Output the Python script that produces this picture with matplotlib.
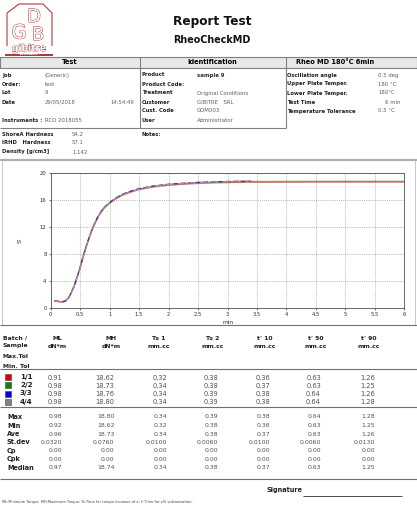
import matplotlib
matplotlib.use("Agg")
import matplotlib.pyplot as plt
import matplotlib.patheffects as pe
from matplotlib.patches import Rectangle, Polygon

# ---------------- data ----------------
t_long = [0.07, 0.10, 0.15, 0.20, 0.25, 0.30, 0.35, 0.40, 0.45, 0.50, 0.55, 0.60, 0.65, 0.70,
          0.75, 0.80, 0.85, 0.90, 1.00, 1.10, 1.20, 1.30, 1.40, 1.50, 1.75, 2.00, 2.25, 2.50,
          2.75, 3.00, 3.40, 3.50, 4.00, 4.50, 5.00, 5.50, 6.00]
t_short = t_long[:31]

s1 = [1.08, 1.02, 0.95, 0.91, 1.05, 1.50, 2.30, 3.30, 4.60, 6.00, 7.60, 9.00, 10.30, 11.50,
      12.50, 13.40, 14.10, 14.70, 15.50, 16.10, 16.60, 16.95, 17.25, 17.50, 17.90, 18.15, 18.30,
      18.42, 18.50, 18.55, 18.60, 18.60, 18.61, 18.62, 18.62, 18.62, 18.62]
s2 = [1.12, 1.06, 1.00, 0.98, 1.10, 1.55, 2.35, 3.35, 4.70, 6.10, 7.70, 9.10, 10.40, 11.60,
      12.60, 13.50, 14.20, 14.80, 15.60, 16.20, 16.70, 17.05, 17.35, 17.60, 18.00, 18.25, 18.40,
      18.52, 18.60, 18.65, 18.70, 18.70, 18.71, 18.72, 18.73, 18.73, 18.73]
s3 = [1.10, 1.05, 1.00, 0.98, 1.08, 1.50, 2.30, 3.30, 4.60, 6.00, 7.60, 9.10, 10.40, 11.60,
      12.60, 13.50, 14.20, 14.80, 15.60, 16.25, 16.75, 17.10, 17.40, 17.65, 18.05, 18.30, 18.45,
      18.58, 18.65, 18.70, 18.76]
s4 = [1.10, 1.04, 0.99, 0.98, 1.07, 1.45, 2.25, 3.25, 4.55, 5.95, 7.55, 9.00, 10.30, 11.50,
      12.50, 13.40, 14.10, 14.70, 15.50, 16.15, 16.65, 17.00, 17.30, 17.55, 18.00, 18.25, 18.42,
      18.55, 18.65, 18.72, 18.80]

x_ticks = [0, 0.5, 1, 1.5, 2, 2.5, 3, 3.5, 4, 4.5, 5, 5.5, 6]
x_tick_labels = ["0", "0.5", "1", "1.5", "2", "2.5", "3", "3.5", "4", "4.5", "5", "5.5", "6"]
y_ticks = [0, 4, 8, 12, 16, 20]

test_labels = ["Job", "Order:", "Lot", "Date"]
test_values = ["(Generic)", "test", "9", "29/05/2018"]
ident_labels = ["Product", "Product Code:", "Treatment", "Customer", "Cust. Code", "User"]
ident_values = ["sample 9", "", "Original Conditions", "GIBITRE   SRL", "GOM003", "Administrator"]
rheo_labels = ["Oscillation angle", "Upper Plate Temper.", "Lower Plate Temper.", "Test Time",
               "Temperature Tolerance"]
rheo_values = ["0.5 deg", "180 °C", "180°C", "6 min", "0.5 °C"]
hard_labels = ["ShoreA Hardness", "IRHD   Hardness", "Density [g/cm3]"]
hard_values = ["54.2", "57.1", "1.142"]

col_names = ["ML", "MH", "Ts 1", "Ts 2", "t' 10", "t' 50", "t' 90"]
col_units = ["dN*m", "dN*m", "mm.cc", "mm.cc", "mm.cc", "mm.cc", "mm.cc"]
samples = ["1/1", "2/2", "3/3", "4/4"]
sample_colors = ["#e00000", "#108010", "#0000e0", "#808080"]
sample_vals = [
    ["0.91", "18.62", "0.32", "0.38", "0.36", "0.63", "1.26"],
    ["0.98", "18.73", "0.34", "0.38", "0.37", "0.63", "1.25"],
    ["0.98", "18.76", "0.34", "0.39", "0.38", "0.64", "1.26"],
    ["0.98", "18.80", "0.34", "0.39", "0.38", "0.64", "1.28"],
]
stat_names = ["Max", "Min", "Ave", "St.dev", "Cp", "Cpk", "Median"]
stat_vals = [
    ["0.98", "18.80", "0.34", "0.39", "0.38", "0.64", "1.28"],
    ["0.92", "18.62", "0.32", "0.38", "0.36", "0.63", "1.25"],
    ["0.96", "18.73", "0.34", "0.38", "0.37", "0.63", "1.26"],
    ["0.0320", "0.0760", "0.0100", "0.0060", "0.0100", "0.0060", "0.0130"],
    ["0.00", "0.00", "0.00", "0.00", "0.00", "0.00", "0.00"],
    ["0.00", "0.00", "0.00", "0.00", "0.00", "0.00", "0.00"],
    ["0.97", "18.74", "0.34", "0.38", "0.37", "0.63", "1.25"],
]

# ---------------- figure ----------------
plt.rcParams['font.family'] = ['DejaVu Sans']
W, H = 417, 507
fig = plt.figure(figsize=(W / 100, H / 100), dpi=100)
pg = fig.add_axes([0, 0, 1, 1])
pg.set_xlim(0, W)
pg.set_ylim(H, 0)
pg.axis('off')

LBL = dict(fontsize=3.8, fontweight='bold', color='#202020', va='center')
VAL = dict(fontsize=3.9, color='#606060', va='center')


def hline(y, x0, x1, c='#808080', lw=0.8):
    pg.plot([x0, x1], [y, y], color=c, lw=lw, solid_capstyle='butt')


def vline(x, y0, y1, c='#808080', lw=0.8):
    pg.plot([x, x], [y0, y1], color=c, lw=lw, solid_capstyle='butt')


# logo
red = '#b03a3a'
hollow = [pe.withStroke(linewidth=0.7, foreground=red)]
pg.add_patch(Polygon([(7, 46), (7, 13), (19, 4), (43, 4), (52, 13), (52, 46)], closed=False,
                     fill=False, edgecolor=red, lw=0.8))
pg.text(34, 17, "D", fontsize=13, color='white', ha='center', va='center', path_effects=hollow)
pg.text(19, 33, "G", fontsize=14, color='white', ha='center', va='center', path_effects=hollow)
pg.text(38, 35, "B", fontsize=13, color='white', ha='center', va='center', path_effects=hollow)
pg.text(29, 48.5, "gibitre", fontsize=6.5, color='white', ha='center', va='center', fontweight='bold',
        path_effects=[pe.withStroke(linewidth=0.6, foreground=red)])
pg.add_patch(Rectangle((5, 53.8), 48, 2.2, facecolor=red, edgecolor='none'))
pg.text(29, 54.9, "INSTRUMENTS", fontsize=1.6, color='white', ha='center', va='center', fontweight='bold')

# titles
pg.text(212, 22, "Report Test", fontsize=8.7, fontweight='bold', ha='center', va='center', color='#111111')
pg.text(212, 40, "RheoCheckMD", fontsize=6.9, fontweight='bold', ha='center', va='center', color='#111111')

# header band
pg.add_patch(Rectangle((0, 57), W, 11, facecolor='#e8e8e8', edgecolor='#808080', lw=0.8))
pg.text(70, 62.5, "Test", fontsize=4.8, fontweight='bold', ha='center', va='center')
pg.text(212, 62.5, "Identification", fontsize=4.8, fontweight='bold', ha='center', va='center')
pg.text(296, 62.5, "Rheo MD 180°C 6min", fontsize=4.8, fontweight='bold', ha='left', va='center')
vline(140, 57, 128)
vline(286, 57, 128)
hline(128, 0, 286)

rows_y = [75, 84, 93, 102, 111, 120]
for i, (l, v) in enumerate(zip(test_labels, test_values)):
    pg.text(2, rows_y[i], l, ha='left', **LBL)
    pg.text(45, rows_y[i], v, ha='left', **VAL)
pg.text(110, rows_y[3], "14:54:49", ha='left', **VAL)
pg.text(2, 120, "Instruments :", ha='left', **LBL)
pg.text(45, 120, "RCO 2018055", ha='left', **VAL)

for i, (l, v) in enumerate(zip(ident_labels, ident_values)):
    pg.text(142, rows_y[i], l, ha='left', **LBL)
    if i == 0:
        pg.text(197, rows_y[i], v, ha='left', fontsize=3.9, fontweight='bold', color='#303030', va='center')
    else:
        pg.text(197, rows_y[i], v, ha='left', **VAL)

rheo_x = [378, 378, 378, 385, 378]
for i, (l, v) in enumerate(zip(rheo_labels, rheo_values)):
    pg.text(287, rows_y[i], l, ha='left', **LBL)
    pg.text(rheo_x[i], rows_y[i], v, ha='left', **VAL)

for i, (l, v) in enumerate(zip(hard_labels, hard_values)):
    y = 134 + 9 * i
    pg.text(2, y, l, ha='left', **LBL)
    pg.text(72, y, v, ha='left', **VAL)
pg.text(142, 134, "Notes:", ha='left', **LBL)

hline(160, 0, W, c='#b0b0b0', lw=1.6)
vline(2, 160, 325, c='#c0c0c0', lw=0.6)
vline(415, 160, 325, c='#c0c0c0', lw=0.6)

# ---------------- chart ----------------
left_px, right_px, top_px, bot_px = 50.7, 404.3, 172.7, 308.3
ax = fig.add_axes([left_px / W, (H - bot_px) / H, (right_px - left_px) / W, (bot_px - top_px) / H])
ax.plot(t_long, s1, color='#d04848', lw=1.0, alpha=0.75, zorder=3)
ax.plot(t_long, s2, color='#3a8a2a', lw=1.0, alpha=0.6, zorder=3)
ax.plot(t_short, s3, color='#3030c8', lw=0.9, ls=(0, (4, 2)), zorder=4)
ax.plot(t_short, s4, color='#c08890', lw=0.9, ls=(0, (6, 3)), zorder=4)
ax.set_xlim(0, 6)
ax.set_ylim(0, 20)
ax.set_xticks(x_ticks)
ax.set_xticklabels(x_tick_labels)
ax.set_yticks(y_ticks)
ax.tick_params(labelsize=3.8, length=1.5, width=0.5, pad=1.5, colors='#303030')
ax.grid(True, color='#a0a0a0', ls=(0, (1.5, 1.5)), lw=0.5)
for sp in ax.spines.values():
    sp.set_color('#505050')
    sp.set_linewidth(0.6)
ax.set_xlabel("min", fontsize=4.2, labelpad=1.5, color='#303030')
ax.set_ylabel("S'", fontsize=4.5, labelpad=12, color='#303030')

# ---------------- results table ----------------
hline(325, 0, W, c='#707070', lw=0.8)
HB = dict(fontsize=4.4, fontweight='bold', va='center', color='#202020')
pg.text(3, 338, "Batch /", ha='left', **HB)
pg.text(3, 345, "Sample", ha='left', **HB)
pg.text(3, 357, "Max.Tol", ha='left', **HB)
pg.text(3, 366, "Min. Tol", ha='left', **HB)
head_x = [57, 111, 159, 213, 265, 316, 369]
for x, n, u in zip(head_x, col_names, col_units):
    pg.text(x, 338, n, ha='center', **HB)
    pg.text(x, 346, u, ha='center', **HB)
hline(369, 0, W, c='#707070', lw=0.8)

val_right = [62, 114.5, 167, 218, 270, 321, 375]
samp_y = [377, 385.3, 393.5, 401.7]
for y, s, c, vals in zip(samp_y, samples, sample_colors, sample_vals):
    pg.add_patch(Rectangle((5.5, y - 3), 6, 6, facecolor=c, edgecolor='#404040', lw=0.4))
    pg.text(20, y, s, ha='left', fontsize=5.2, fontweight='bold', va='center', color='#202020')
    for x, v in zip(val_right, vals):
        pg.text(x, y + 0.5, v, ha='right', fontsize=4.8, va='center', color='#505050')
hline(407, 0, W, c='#707070', lw=0.8)

stat_y = [417, 425.5, 434, 442.3, 451, 459.3, 467.7]
for y, s, vals in zip(stat_y, stat_names, stat_vals):
    pg.text(7, y, s, ha='left', fontsize=4.7, fontweight='bold', va='center', color='#202020')
    for x, v in zip(val_right, vals):
        pg.text(x, y, v, ha='right', fontsize=4.4, va='center', color='#505050')
hline(479, 0, W, c='#707070', lw=0.8)

pg.text(267, 490, "Signature", ha='left', fontsize=4.7, fontweight='bold', va='center', color='#202020')
hline(496, 303, 402, c='#303030', lw=0.6)
pg.text(2, 501.5, "ML:Minimum Torque; MH:Maximum Torque; Ts:Time for torque increase of x; t':Time for x% vulcanization;",
        ha='left', fontsize=2.6, va='center', color='#404040')

fig.savefig("out.png", dpi=100)
